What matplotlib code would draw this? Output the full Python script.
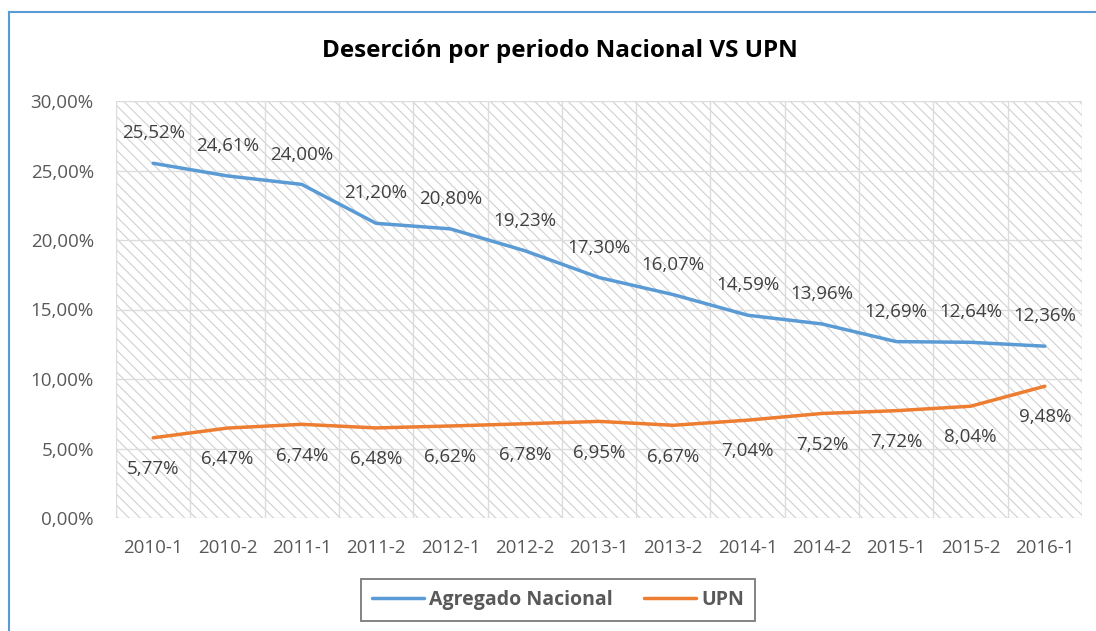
import matplotlib.pyplot as plt
from matplotlib.patches import Rectangle
from matplotlib.ticker import FuncFormatter

periodos = ['2010-1', '2010-2', '2011-1', '2011-2', '2012-1', '2012-2', '2013-1',
            '2013-2', '2014-1', '2014-2', '2015-1', '2015-2', '2016-1']
nacional = [25.52, 24.61, 24.00, 21.20, 20.80, 19.23, 17.30, 16.07, 14.59, 13.96, 12.69, 12.64, 12.36]
upn = [5.77, 6.47, 6.74, 6.48, 6.62, 6.78, 6.95, 6.67, 7.04, 7.52, 7.72, 8.04, 9.48]
yticks = [0, 5, 10, 15, 20, 25, 30]

azul = '#5B9BD5'
naranja = '#ED7D31'
plt.rcParams['font.family'] = ['Open Sans', 'DejaVu Sans']
plt.rcParams['hatch.linewidth'] = 0.8
plt.rcParams['hatch.color'] = '#d0d0d0'

fig = plt.figure(figsize=(10.96, 6.31), dpi=100)
ax = fig.add_axes([116 / 1096, 1 - 518 / 631, (1082 - 116) / 1096, (518 - 101) / 631])

# marco del grafico (solo se ven los bordes superior e izquierdo)
fig.add_artist(plt.Line2D([9 / 1096, 1.0], [1 - 12 / 631, 1 - 12 / 631], color=azul, lw=1.5, transform=fig.transFigure))
fig.add_artist(plt.Line2D([9 / 1096, 9 / 1096], [0, 1 - 12 / 631], color=azul, lw=1.5, transform=fig.transFigure))

x = range(len(periodos))
ax.set_xlim(-0.5, len(periodos) - 0.5)
ax.set_ylim(0, 30)

ax.add_patch(Rectangle((0, 0), 1, 1, transform=ax.transAxes, facecolor='none',
                       hatch='\\\\\\', edgecolor='#d0d0d0', lw=0, zorder=0))

for v in yticks:
    ax.axhline(v, color='#dcdcdc', lw=1, zorder=1)
for i in range(len(periodos) + 1):
    ax.axvline(i - 0.5, color='#dcdcdc', lw=1, zorder=1)

ax.plot(x, nacional, color=azul, lw=2.5, label='Agregado Nacional', zorder=3, solid_capstyle='round')
ax.plot(x, upn, color=naranja, lw=2.5, label='UPN', zorder=3, solid_capstyle='round')

fmt = lambda v: f'{v:.2f}%'.replace('.', ',')
for i, v in enumerate(nacional):
    ax.annotate(fmt(v), (i, v), xytext=(0, 15), textcoords='offset points', ha='center', va='bottom',
                fontsize=13.5, color='#404040')
for i, v in enumerate(upn):
    ax.annotate(fmt(v), (i, v), xytext=(0, -16), textcoords='offset points', ha='center', va='top',
                fontsize=13.5, color='#404040')

ax.set_xticks(list(x))
ax.set_xticklabels(periodos)
ax.set_yticks(yticks)
ax.yaxis.set_major_formatter(FuncFormatter(lambda v, p: f'{v:.2f}%'.replace('.', ',')))
ax.tick_params(length=0, labelsize=13.5, labelcolor='#595959', pad=15)
ax.tick_params(axis='y', pad=16)
for s in ax.spines.values():
    s.set_visible(False)

fig.text(560 / 1096, 1 - 51 / 631, 'Deserción por periodo Nacional VS UPN', ha='center', va='center',
         fontsize=17.5, fontweight='bold', color='#000000')

leg = fig.legend(loc='center', bbox_to_anchor=(558 / 1096, 1 - 600 / 631), ncol=2, frameon=True,
                 fancybox=False, edgecolor='#595959', fontsize=14, handlelength=2.7,
                 columnspacing=1.6, borderpad=0.55, handletextpad=0.25)
leg.get_frame().set_linewidth(1.3)
for t in leg.get_texts():
    t.set_color('#595959')
    t.set_fontweight('bold')

fig.savefig('out.png', dpi=100)
